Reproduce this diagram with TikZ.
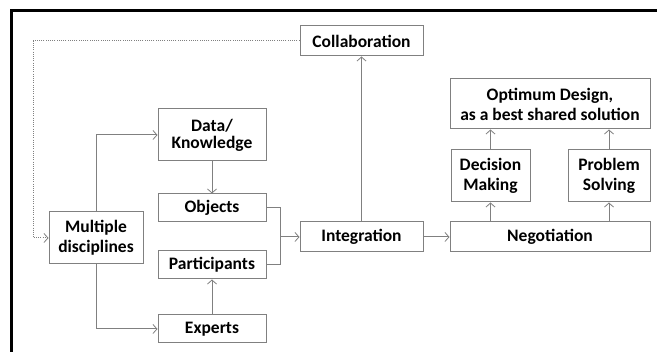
\documentclass[tikz,border=0pt]{standalone}
\usepackage{fontspec}
\setmainfont{Carlito}
\usetikzlibrary{arrows.meta}
\definecolor{lgray}{HTML}{808080}
\tikzset{
  box/.style={draw=lgray, line width=1pt, fill=white, align=center, inner sep=1pt,
    font=\fontsize{17.5}{20}\selectfont\bfseries},
  conn/.style={draw=lgray, line width=1pt, -{Straight Barb[length=4pt,width=9pt,line width=0.8pt]}},
  plain/.style={draw=lgray, line width=1pt},
  dots/.style={draw=lgray, line width=1pt, dash pattern=on 1pt off 1.2pt}
}
\begin{document}
\begin{tikzpicture}[x=1pt,y=-1pt]
\fill[white] (0,0) rectangle (657,352);
\useasboundingbox (0,0) rectangle (657,352);
\draw[black, line width=3pt] (11.5,352) -- (11.5,11) -- (657,11);

\node[box, minimum width=123, minimum height=30] (collab) at (361.5,41) {Collaboration};
\node[box, minimum width=108, minimum height=52, font=\fontsize{17.5}{17}\selectfont\bfseries] (data) at (212,135) {Data/\\Knowledge};
\node[box, minimum width=94, minimum height=52] (md) at (96,238) {Multiple\\disciplines};
\node[box, minimum width=108, minimum height=28] (obj) at (212,208) {Objects};
\node[box, minimum width=108, minimum height=28] (part) at (212,265) {Participants};
\node[box, minimum width=108, minimum height=28] (exp) at (212,329) {Experts};
\node[box, minimum width=123, minimum height=30] (integ) at (361.5,237) {Integration};
\node[box, minimum width=200, minimum height=30] (neg) at (550,237) {Negotiation};
\node[box, minimum width=79, minimum height=52] (dec) at (490.5,176) {Decision\\Making};
\node[box, minimum width=82, minimum height=52] (prob) at (609,176) {Problem\\Solving};
\node[box, minimum width=200, minimum height=50] (opt) at (550,104) {Optimum Design,\\as a best shared solution};

\coordinate (dtl) at (33,41);
\coordinate (jn) at (280,237);

\draw[dots, -{Straight Barb[length=4pt,width=9pt,line width=0.8pt]}] (collab.west) -- (dtl) |- (md.west);
\draw[conn] (md.north) |- (data.west);
\draw[conn] (md.south) |- (exp.west);
\draw[conn] (data) -- (obj);
\draw[conn] (exp) -- (part);
\draw[plain] (obj.east) -| (jn);
\draw[plain] (part.east) -| (jn);
\draw[conn] (jn) -- (integ.west);
\draw[conn] (integ.north) -- (collab.south);
\draw[conn] (integ.east) -- (neg.west);
\draw[conn] (dec.south |- neg.north) -- (dec.south);
\draw[conn] (prob.south |- neg.north) -- (prob.south);
\draw[conn] (dec.north) -- (dec.north |- opt.south);
\draw[conn] (prob.north) -- (prob.north |- opt.south);
\end{tikzpicture}
\end{document}
